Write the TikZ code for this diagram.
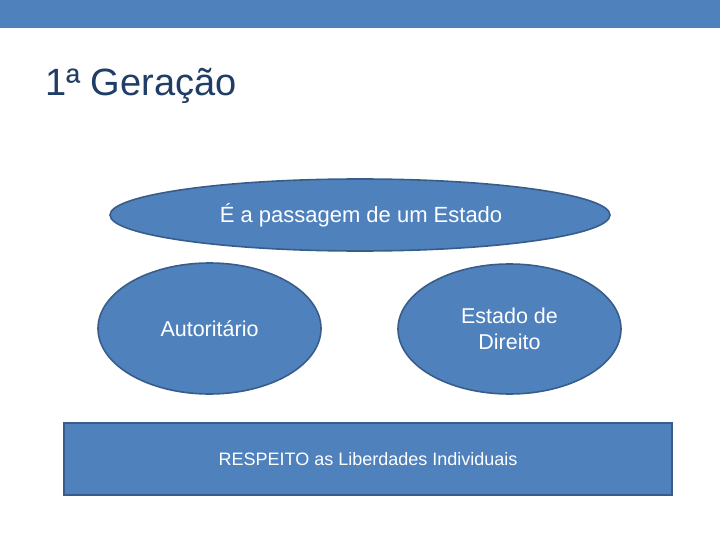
\documentclass[tikz,border=0pt]{standalone}
\usepackage{fontspec}
\setmainfont{Liberation Sans}
\usetikzlibrary{shapes.geometric}
\definecolor{bar}{HTML}{4F81BD}
\definecolor{shapefill}{HTML}{4F81BD}
\definecolor{shapeline}{HTML}{385D8A}
\definecolor{titlecol}{HTML}{1F3D66}
\tikzset{
  oval/.style={ellipse, draw=shapeline, fill=shapefill, line width=1.6pt, inner sep=0pt, text=white, align=center, font=\fontsize{21.5}{25.5}\selectfont},
  rectbox/.style={rectangle, draw=shapeline, fill=shapefill, line width=1.6pt, inner sep=0pt, text=white, font=\fontsize{18}{22}\selectfont}
}
\begin{document}
\begin{tikzpicture}[x=1pt,y=-1pt]
\useasboundingbox (0,0) rectangle (720,540);
\fill[bar] (0,0) rectangle (720,28);
\node[anchor=base west, text=titlecol, font=\fontsize{38}{46}\selectfont, inner sep=0pt] (title) at (45,96) {1ª Geração};
\node[oval, minimum width=500pt, minimum height=72pt] (top) at (360,215) {};
\node[text=white, font=\fontsize{22}{26}\selectfont, inner sep=0pt] (toptext) at (361,215) {É a passagem de um Estado};
\node[oval, minimum width=223pt, minimum height=131pt] (left) at (209.5,328.5) {Autoritário};
\node[oval, minimum width=223pt, minimum height=130pt] (right) at (509.5,329) {Estado de\\Direito};
\node[rectbox, minimum width=608pt, minimum height=72pt] (rect) at (368,459) {RESPEITO as Liberdades Individuais};
\end{tikzpicture}
\end{document}
